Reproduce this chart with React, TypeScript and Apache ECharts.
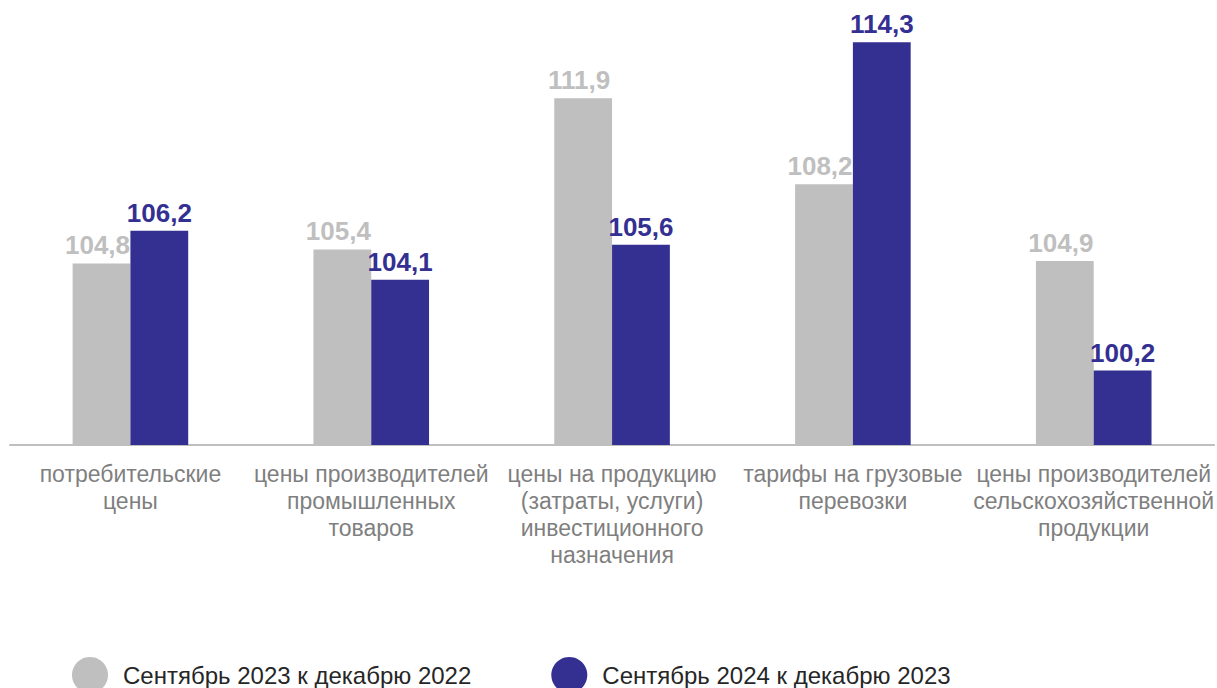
import React, { useEffect, useRef } from "react";
import * as echarts from "echarts";

const categories = [
  "потребительские\nцены",
  "цены производителей\nпромышленных\nтоваров",
  "цены на продукцию\n(затраты, услуги)\nинвестиционного\nназначения",
  "тарифы на грузовые\nперевозки",
  "цены производителей\nсельскохозяйственной\nпродукции",
];
const seriesNames = ["Сентябрь 2023 к декабрю 2022", "Сентябрь 2024 к декабрю 2023"];
const values2023 = [104.8, 105.4, 111.9, 108.2, 104.9];
const values2024 = [106.2, 104.1, 105.6, 114.3, 100.2];

const GRAY = "#bfbfbf";
const BLUE = "#343092";
const FONT = "'Liberation Sans', Arial, sans-serif";

export default function App() {
  const ref = useRef<HTMLDivElement>(null);
  useEffect(() => {
    if (!ref.current) return;
    const chart = echarts.init(ref.current, undefined, { renderer: "svg" });
    const label = (color: string, dx: number) => ({
      show: true,
      position: "top",
      distance: 5,
      offset: [dx, 0],
      color,
      fontSize: 26,
      fontWeight: "bold",
      fontFamily: FONT,
      formatter: (p: any) => String(p.value.toFixed(1)).replace(".", ","),
    });
    chart.setOption({
      animation: false,
      textStyle: { fontFamily: FONT },
      grid: { left: 10, right: 2, top: 26, bottom: 243, containLabel: false },
      legend: {
        left: 72,
        top: 657,
        padding: 0,
        icon: "circle",
        itemWidth: 36,
        itemHeight: 36,
        itemGap: 80,
        textStyle: { fontSize: 24, color: "#262626", fontFamily: FONT, padding: [0, 0, 0, 10] },
        data: seriesNames,
      },
      xAxis: {
        type: "category",
        data: categories,
        axisLine: { show: true, lineStyle: { color: "#bfbfbf", width: 2 } },
        axisTick: { show: false },
        axisLabel: {
          interval: 0,
          margin: 15,
          fontSize: 23,
          lineHeight: 27,
          color: "#7f7f7f",
          fontFamily: FONT,
        },
      },
      yAxis: {
        type: "value",
        min: 97,
        max: 115,
        show: false,
        splitLine: { show: false },
      },
      series: [
        {
          name: seriesNames[0],
          type: "bar",
          data: values2023,
          barWidth: "24%",
          barGap: "0%",
          itemStyle: { color: GRAY },
          label: label(GRAY, -4),
        },
        {
          name: seriesNames[1],
          type: "bar",
          data: values2024,
          barWidth: "24%",
          barGap: "0%",
          itemStyle: { color: BLUE },
          label: label(BLUE, 0),
        },
      ],
    });
    return () => chart.dispose();
  }, []);
  return (
    <div
      ref={ref}
      style={{ position: "fixed", left: 0, top: 0, width: 1217, height: 688, background: "#fff" }}
    />
  );
}
